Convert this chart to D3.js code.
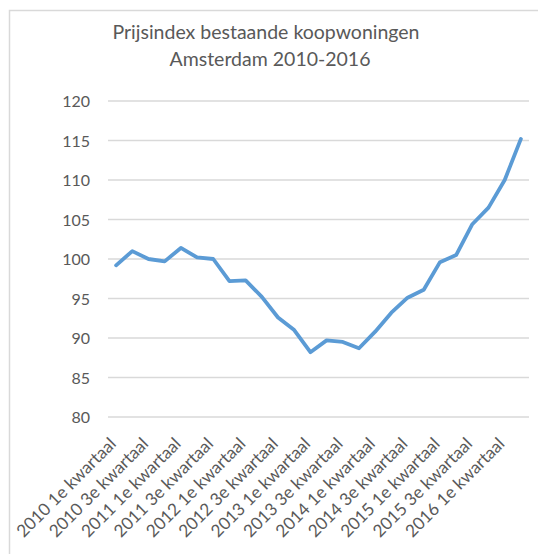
<!DOCTYPE html>
<html lang="nl">
<head>
    <meta charset="UTF-8">
    <title>Prijsindex bestaande koopwoningen Amsterdam</title>
    <script src="https://d3js.org/d3.v7.min.js"></script>
    <style>
        body { margin: 0; background: #fff; }
        svg { font-family: Lato, "Open Sans", sans-serif; }
        .frame { fill: none; stroke: #d9d9d9; stroke-width: 1.5; }
        .grid-line { stroke: #d9d9d9; stroke-width: 1.3; }
        .y-label { font-size: 16px; fill: #595959; text-anchor: end; }
        .x-label { font-size: 17.2px; fill: #595959; text-anchor: end; }
        .chart-title { font-size: 19.5px; fill: #595959; text-anchor: middle; }
        .price-line { fill: none; stroke: #5b9bd5; stroke-width: 3.8; stroke-linejoin: round; stroke-linecap: round; }
    </style>
</head>
<body>
<script>
    const years = ['2010', '2011', '2012', '2013', '2014', '2015', '2016'];
    const quarters = ['1e', '2e', '3e', '4e'];
    const periods = years.flatMap(y => quarters.map(q => y + ' ' + q + ' kwartaal')).slice(0, 26);
    const indexValues = [
        99.2, 101.0, 100.0, 99.7, 101.4, 100.2, 100.0, 97.2,
        97.3, 95.2, 92.6, 91.0, 88.2, 89.7, 89.5, 88.7,
        90.8, 93.2, 95.1, 96.1, 99.6, 100.5, 104.4, 106.5,
        110.0, 115.2
    ];
    const yTicks = [80, 85, 90, 95, 100, 105, 110, 115, 120];

    const data = periods.map((p, i) => ({ period: p, value: indexValues[i] }));

    const svg = d3.select('body').append('svg')
        .attr('width', 538)
        .attr('height', 554);

    // chart frame, runs off the bottom/right edge like the screenshot
    svg.append('rect')
        .attr('class', 'frame')
        .attr('x', 9.5)
        .attr('y', 10.5)
        .attr('width', 560)
        .attr('height', 580);

    svg.append('text')
        .attr('class', 'chart-title')
        .attr('x', 266)
        .attr('y', 39)
        .text('Prijsindex bestaande koopwoningen');

    svg.append('text')
        .attr('class', 'chart-title')
        .attr('x', 270)
        .attr('y', 66)
        .text('Amsterdam 2010-2016');

    const xScale = d3.scaleBand()
        .domain(periods)
        .range([108, 529]);

    const yScale = d3.scaleLinear()
        .domain([80, 120])
        .range([417, 101]);

    svg.selectAll('.grid-line')
        .data(yTicks)
        .enter().append('line')
        .attr('class', 'grid-line')
        .attr('x1', 108)
        .attr('x2', 529)
        .attr('y1', d => yScale(d))
        .attr('y2', d => yScale(d));

    svg.selectAll('.y-label')
        .data(yTicks)
        .enter().append('text')
        .attr('class', 'y-label')
        .attr('x', 90)
        .attr('y', d => yScale(d) + 6)
        .text(d => d);

    // every other quarter is labelled
    const labelled = periods.filter((p, i) => i % 2 === 0);
    svg.selectAll('.x-label')
        .data(labelled)
        .enter().append('text')
        .attr('class', 'x-label')
        .attr('transform', d => {
            const x = xScale(d) + xScale.bandwidth() / 2 + 1;
            return 'translate(' + x + ',445) rotate(-45)';
        })
        .text(d => d);

    const line = d3.line()
        .x(d => xScale(d.period) + xScale.bandwidth() / 2)
        .y(d => yScale(d.value));

    svg.append('path')
        .datum(data)
        .attr('class', 'price-line')
        .attr('d', line);
</script>
</body>
</html>
